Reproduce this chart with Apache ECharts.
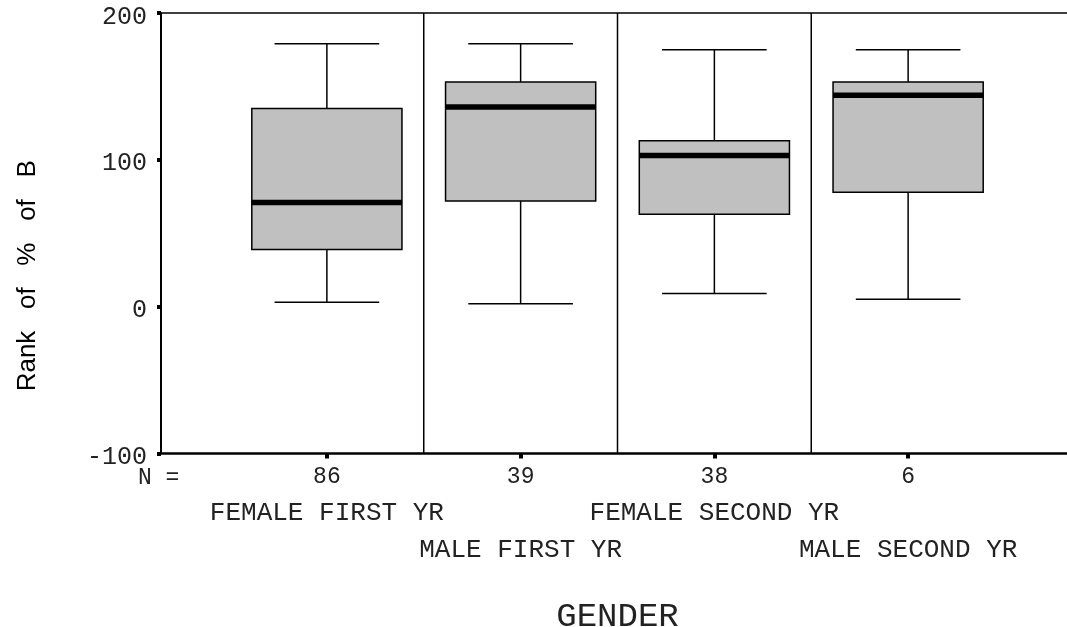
<!DOCTYPE html>
<html>
<head>
<meta charset="UTF-8">
<title>Rank of % of B by GENDER</title>
<style>
  html, body { margin: 0; padding: 0; background: #fff; }
  #chart { width: 1067px; height: 627px; }
</style>
</head>
<body>
<div id="chart"></div>
<script src="https://cdn.jsdelivr.net/npm/echarts@6/dist/echarts.min.js"></script>
<script>
// groups along the x axis and their case counts
var categories = ['FEMALE FIRST YR', 'MALE FIRST YR', 'FEMALE SECOND YR', 'MALE SECOND YR'];
var counts = [86, 39, 38, 6];
// five-number summaries
var lowWhisker = [3, 2, 9, 5];
var q1 = [39, 72, 63, 78];
var median = [71, 136, 103, 144];
var q3 = [135, 153, 113, 153];
var highWhisker = [179, 179, 175, 175];
// y axis
var yMin = -100, yMax = 200, yStep = 100;

var mono = 'Liberation Mono';
var ink = '#222';

var boxData = categories.map(function (c, i) {
  return [i, lowWhisker[i], q1[i], median[i], q3[i], highWhisker[i]];
});

var chart = echarts.init(document.getElementById('chart'));

// one box: whiskers, caps, box, median, plus a divider on its left side
function renderBox(params, api) {
  var i = api.value(0);
  var band = api.size([1, 0])[0];
  var bw = band * 0.775, cw = band * 0.54;
  var pLo = api.coord([i, api.value(1)]);
  var pQ1 = api.coord([i, api.value(2)]);
  var pMd = api.coord([i, api.value(3)]);
  var pQ3 = api.coord([i, api.value(4)]);
  var pHi = api.coord([i, api.value(5)]);
  var cx = pMd[0];
  var thin = { stroke: '#000', lineWidth: 1.5 };
  var kids = [
    { type: 'line', shape: { x1: cx, y1: pLo[1], x2: cx, y2: pQ1[1] }, style: thin },
    { type: 'line', shape: { x1: cx, y1: pQ3[1], x2: cx, y2: pHi[1] }, style: thin },
    { type: 'line', shape: { x1: cx - cw / 2, y1: pLo[1], x2: cx + cw / 2, y2: pLo[1] }, style: thin },
    { type: 'line', shape: { x1: cx - cw / 2, y1: pHi[1], x2: cx + cw / 2, y2: pHi[1] }, style: thin },
    { type: 'rect', shape: { x: cx - bw / 2, y: pQ3[1], width: bw, height: pQ1[1] - pQ3[1] },
      style: { fill: '#c0c0c0', stroke: '#000', lineWidth: 1.5 } },
    { type: 'line', shape: { x1: cx - bw / 2, y1: pMd[1], x2: cx + bw / 2, y2: pMd[1] },
      style: { stroke: '#000', lineWidth: 5.5 } }
  ];
  if (params.dataIndex > 0) {
    var sx = cx - band / 2;
    kids.push({ type: 'line',
      shape: { x1: sx, y1: params.coordSys.y, x2: sx, y2: params.coordSys.y + params.coordSys.height },
      style: { stroke: '#000', lineWidth: 1.5 } });
  }
  return { type: 'group', children: kids };
}

var option = {
  backgroundColor: '#fff',
  animation: false,
  // frame grid (axes) and the grid the boxes sit in
  grid: [
    { left: 161, width: 906, top: 13, bottom: 173.5, outerBoundsMode: 'none', containLabel: false },
    { left: 230, width: 775, top: 13, bottom: 173.5, outerBoundsMode: 'none', containLabel: false }
  ],
  graphic: [{
    type: 'text', left: 138, top: 466,
    style: { text: 'N =', font: '23px "Liberation Mono"', fill: ink }
  }],
  xAxis: [
    { gridIndex: 0, type: 'value', min: 0, max: 1, position: 'bottom',
      axisLine: { onZero: false, lineStyle: { color: '#000', width: 2.5 } },
      axisTick: { show: false }, axisLabel: { show: false }, splitLine: { show: false } },
    { gridIndex: 0, type: 'value', min: 0, max: 1, position: 'top',
      axisLine: { onZero: false, lineStyle: { color: '#000', width: 1.5 } },
      axisTick: { show: false }, axisLabel: { show: false }, splitLine: { show: false } },
    { gridIndex: 1, type: 'category', data: categories, position: 'bottom',
      axisLine: { show: false, onZero: false },
      axisTick: { show: true, alignWithLabel: true, length: 5, lineStyle: { color: '#000', width: 4 } },
      axisLabel: {
        interval: 0, margin: 5, color: ink,
        formatter: function (v, i) {
          var rows = i % 2 === 0 ? ['{c|' + v + '}', '{c| }'] : ['{c| }', '{c|' + v + '}'];
          return '{n|' + counts[i] + '}\n' + rows.join('\n');
        },
        rich: {
          n: { fontFamily: mono, fontSize: 23, lineHeight: 36.5, color: ink, align: 'center' },
          c: { fontFamily: mono, fontSize: 26, lineHeight: 36.5, color: ink, align: 'center' }
        }
      },
      name: 'GENDER', nameLocation: 'middle', nameGap: 146,
      nameTextStyle: { fontFamily: mono, fontSize: 34, color: ink }
    }
  ],
  yAxis: [
    { gridIndex: 0, type: 'value', min: yMin, max: yMax, interval: yStep,
      axisLine: { show: true, onZero: false, lineStyle: { color: '#000', width: 2 } },
      axisTick: { show: true, length: 4, lineStyle: { color: '#000', width: 4 } },
      axisLabel: {
        margin: 14, color: ink,
        formatter: function (v) { return '{t|' + v + '}'; },
        rich: { t: { fontFamily: mono, fontSize: 25, color: ink, padding: [8, 0, 0, 0] } }
      },
      splitLine: { show: false },
      name: 'Rank   of   %   of   B', nameLocation: 'middle', nameRotate: 90, nameGap: 120,
      nameTextStyle: { fontFamily: 'Liberation Sans', fontSize: 26, color: '#000', padding: [0, 85, 0, 0] }
    },
    { gridIndex: 1, type: 'value', min: yMin, max: yMax, interval: yStep, show: false }
  ],
  series: [{
    type: 'custom',
    xAxisIndex: 2, yAxisIndex: 1,
    renderItem: renderBox,
    encode: { x: 0, y: [1, 2, 3, 4, 5] },
    data: boxData
  }]
};

chart.setOption(option);
window.addEventListener('resize', function () { chart.resize(); });
</script>
</body>
</html>
